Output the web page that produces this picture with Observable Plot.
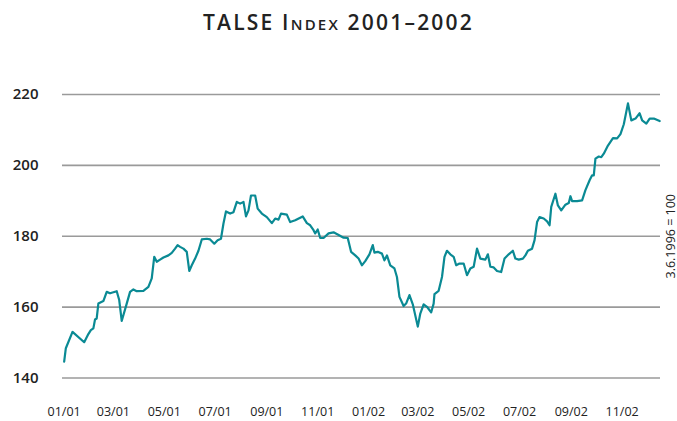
<!DOCTYPE html>
<html>
<head>
<meta charset="utf-8">
<script src="https://cdn.jsdelivr.net/npm/d3@7"></script>
<script src="https://cdn.jsdelivr.net/npm/@observablehq/plot@0.6"></script>
<style>
  html, body { margin: 0; padding: 0; background: #fff; }
  #title {
    height: 50px; line-height: 44px; text-align: center;
    font-family: "Open Sans", sans-serif; font-weight: 600; font-size: 21px;
    letter-spacing: 2.2px; color: #222;
  }
  .sc { font-variant: small-caps; }
</style>
</head>
<body>
<div id="title">TALSE <span class="sc">Index</span> 2001–2002</div>
<div id="chart"></div>
<script>
const dates = [
  "2001-01-01","2001-01-03","2001-01-11","2001-01-25","2001-01-30","2001-02-02","2001-02-05","2001-02-07","2001-02-09","2001-02-11",
  "2001-02-17","2001-02-21","2001-02-25","2001-03-05","2001-03-08","2001-03-11","2001-03-17","2001-03-21","2001-03-25","2001-03-29",
  "2001-04-06","2001-04-12","2001-04-16","2001-04-19","2001-04-22","2001-04-26","2001-04-30","2001-05-06","2001-05-10","2001-05-14",
  "2001-05-17","2001-05-20","2001-05-24","2001-05-28","2001-05-31","2001-06-03","2001-06-07","2001-06-11","2001-06-15","2001-06-21",
  "2001-06-25","2001-06-30","2001-07-04","2001-07-08","2001-07-11","2001-07-14","2001-07-19","2001-07-23","2001-07-27","2001-07-31",
  "2001-08-04","2001-08-07","2001-08-10","2001-08-13","2001-08-18","2001-08-21","2001-08-26","2001-09-01","2001-09-07","2001-09-11",
  "2001-09-15","2001-09-18","2001-09-25","2001-09-29","2001-10-05","2001-10-14","2001-10-19","2001-10-23","2001-10-27","2001-10-29",
  "2001-11-01","2001-11-04","2001-11-08","2001-11-14","2001-11-20","2001-11-25","2001-12-02","2001-12-07","2001-12-11","2001-12-16",
  "2001-12-20","2001-12-24","2001-12-28","2002-01-02","2002-01-06","2002-01-08","2002-01-12","2002-01-17","2002-01-20","2002-01-23",
  "2002-01-27","2002-02-01","2002-02-04","2002-02-07","2002-02-12","2002-02-15","2002-02-19","2002-02-23","2002-03-01","2002-03-04",
  "2002-03-08","2002-03-12","2002-03-17","2002-03-20","2002-03-21","2002-03-26","2002-03-30","2002-04-02","2002-04-05","2002-04-09",
  "2002-04-13","2002-04-16","2002-04-20","2002-04-25","2002-04-29","2002-05-03","2002-05-07","2002-05-11","2002-05-15","2002-05-21",
  "2002-05-24","2002-05-27","2002-05-31","2002-06-04","2002-06-09","2002-06-13","2002-06-18","2002-06-23","2002-06-26","2002-06-30",
  "2002-07-05","2002-07-08","2002-07-11","2002-07-16","2002-07-19","2002-07-22","2002-07-25","2002-07-30","2002-08-03","2002-08-06",
  "2002-08-08","2002-08-13","2002-08-16","2002-08-20","2002-08-25","2002-08-29","2002-08-31","2002-09-02","2002-09-08","2002-09-14",
  "2002-09-18","2002-09-23","2002-09-26","2002-09-28","2002-09-30","2002-10-04","2002-10-07","2002-10-10","2002-10-15","2002-10-21",
  "2002-10-26","2002-10-30","2002-11-03","2002-11-08","2002-11-12","2002-11-17","2002-11-22","2002-11-25","2002-11-30","2002-12-04",
  "2002-12-09","2002-12-16"
];
const values = [
  144.6,148.4,153.0,150.1,152.4,153.5,154.0,156.5,156.8,161.0,
  161.7,164.3,163.9,164.5,162.0,156.1,161.0,164.3,165.0,164.5,
  164.6,165.7,168.1,174.2,172.8,173.4,174.0,174.6,175.3,176.5,
  177.5,177.0,176.5,175.6,170.2,171.8,173.7,175.9,179.1,179.3,
  179.1,177.9,178.9,179.3,183.6,187.0,186.4,186.8,189.7,189.2,
  189.7,185.6,187.3,191.5,191.5,187.8,186.4,185.4,183.7,185.0,
  184.7,186.4,186.1,184.0,184.5,185.6,183.7,183.1,181.7,180.8,
  181.9,179.5,179.5,180.8,181.1,180.5,179.6,179.5,175.6,174.6,
  173.7,171.8,173.0,174.9,177.5,175.4,175.6,175.1,173.2,174.6,
  171.8,170.9,168.5,162.9,160.3,161.0,163.4,160.8,154.5,158.2,
  160.8,160.1,158.5,161.0,163.7,164.6,168.5,174.2,175.9,174.9,
  174.2,171.8,172.3,172.3,169.0,170.9,171.4,176.5,173.7,173.4,
  174.9,171.4,171.2,170.2,169.9,173.7,174.9,175.9,173.7,173.4,
  173.7,174.6,175.9,176.5,178.9,184.0,185.4,185.0,184.2,183.1,
  188.3,192.0,188.7,187.3,188.9,189.4,191.3,189.9,189.9,190.1,
  193.0,195.8,197.2,197.2,201.9,202.5,202.3,203.3,205.6,207.7,
  207.6,208.8,211.6,217.5,212.7,213.2,214.7,212.7,211.8,213.2,
  213.2,212.5
];
const yTicks = [140, 160, 180, 200, 220];
const baseLabel = "3.6.1996 = 100";

const data = dates.map((d, i) => ({date: new Date(d + "T00:00:00Z"), value: values[i]}));

const font = "'Open Sans', sans-serif";
const chart = Plot.plot({
  width: 677,
  height: 371,
  marginLeft: 62,
  marginRight: 17,
  marginTop: 44,
  marginBottom: 43.5,
  style: {fontFamily: font, color: "#222", background: "#fff", overflow: "visible"},
  x: {type: "utc", domain: [new Date(Date.UTC(2000, 11, 30)), new Date(Date.UTC(2002, 11, 17))]},
  y: {domain: [140, 220]},
  marks: [
    Plot.ruleY(yTicks, {stroke: "#9a9a9a", strokeWidth: 1.6}),
    Plot.axisY({ticks: yTicks, tickSize: 0, tickPadding: 24, fontSize: 15, fontWeight: 600, label: null}),
    Plot.axisX({ticks: d3.utcMonth.every(2), tickFormat: d3.utcFormat("%m/%y"), tickSize: 0, tickPadding: 29, fontSize: 12.5, label: null}),
    Plot.line(data, {x: "date", y: "value", stroke: "#0a8a94", strokeWidth: 2.2, strokeLinejoin: "round"}),
    Plot.text([baseLabel], {frameAnchor: "right", textAnchor: "middle", dx: 10, rotate: -90, fontSize: 12.5, fill: "#222"})
  ]
});
document.getElementById("chart").appendChild(chart);
</script>
</body>
</html>
